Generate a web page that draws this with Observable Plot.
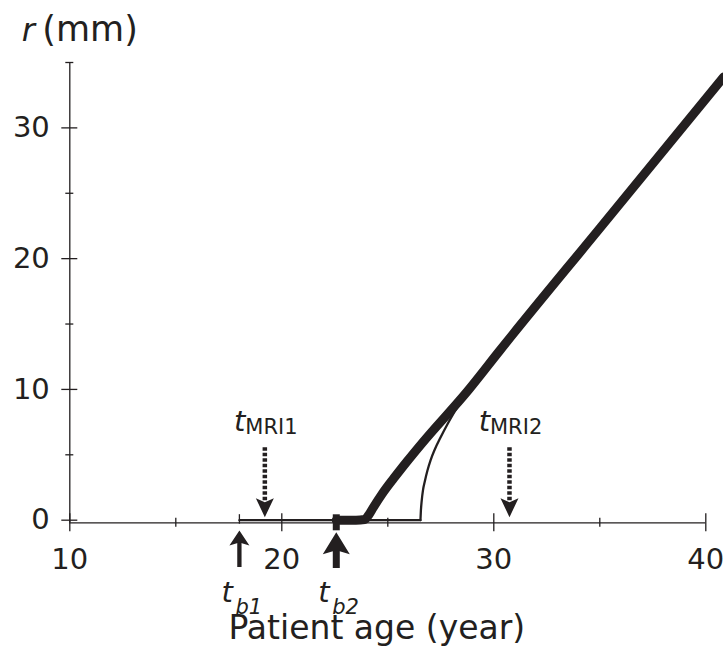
<!DOCTYPE html>
<html><head><meta charset="utf-8">
<script src="https://cdn.jsdelivr.net/npm/d3@7"></script>
<script src="https://cdn.jsdelivr.net/npm/@observablehq/plot@0.6"></script>
<style>html,body{margin:0;padding:0;background:#fff;}</style>
</head><body><div id="chart"></div>
<script>
// ---- data ----
const xMajorTicks = [10, 20, 30, 40];
const xMinorTicks = [15, 25, 35];
const yMajorTicks = [0, 10, 20, 30];
const yMinorTicks = [5, 15, 25, 35];

const tbAges = [18.0, 22.57];            // t_b1, t_b2
const tbSubs = ["b1", "b2"];
const mriAges = [19.2, 30.74];           // t_MRI1, t_MRI2
const mriSubs = ["MRI1", "MRI2"];

// thin curve (later onset): flat part, then growth
const thinFlatAge = [18, 26.54];
const thinFlatR   = [0, 0];
const thinAge = [26.54, 26.56, 26.6, 26.66, 26.75, 26.87, 27.02, 27.2, 27.48, 27.8, 28.15, 28.5, 28.9, 30.28, 35.04, 40.85];
const thinR   = [0, 0.7, 1.5, 2.3, 3.0, 3.8, 4.6, 5.35, 6.3, 7.3, 8.3, 9.2, 10.05, 12.97, 22.4, 33.9];
// thick curve (onset at t_b2)
const thickAge = [22.57, 23.5, 23.9, 24.1, 24.32, 24.73, 25.28, 25.91, 26.62, 28.8, 30.28, 35.04, 40.85];
const thickR   = [0, 0, 0.05, 0.4, 0.98, 2.0, 3.2, 4.5, 5.9, 9.95, 12.97, 22.4, 33.9];

// ---- build ----
const ink = "#231f20";
const xDomain = [10, 40], yDomain = [-0.2, 35];
const axisLevel = -0.2;
const thinFlat = thinFlatAge.map((t, i) => ({t, r: thinFlatR[i]}));
const thin = thinAge.map((t, i) => ({t, r: thinR[i]}));
const thick = thickAge.map((t, i) => ({t, r: thickR[i]}));

function headUp(w, h, n) { return {draw(c) { c.moveTo(0, 0); c.lineTo(w / 2, h); c.lineTo(0, h - n); c.lineTo(-w / 2, h); c.closePath(); }}; }
function headDown(w, h, n) { return {draw(c) { c.moveTo(0, 0); c.lineTo(w / 2, -h); c.lineTo(0, -h + n); c.lineTo(-w / 2, -h); c.closePath(); }}; }

const rule = {stroke: ink, strokeWidth: 1.3};
const fs = 29;

const chart = Plot.plot({
  width: 723, height: 669,
  marginLeft: 69.3, marginRight: 17.7, marginTop: 62, marginBottom: 146.7,
  x: {domain: xDomain, axis: null},
  y: {domain: yDomain, axis: null},
  style: {fontFamily: "'DejaVu Sans', sans-serif", background: "#fff", color: ink},
  marks: [
    // axes lines
    Plot.ruleY([axisLevel], {x1: xDomain[0], x2: xDomain[1], ...rule}),
    Plot.ruleX([xDomain[0]], {y1: axisLevel, y2: yDomain[1], ...rule}),
    // ticks crossing the axes
    Plot.ruleX(xMajorTicks, {y1: axisLevel, y2: axisLevel, insetTop: 9, insetBottom: 9, ...rule}),
    Plot.ruleX(xMinorTicks, {y1: axisLevel, y2: axisLevel, insetTop: 4.5, insetBottom: 4.5, ...rule}),
    Plot.ruleY(yMajorTicks, {x1: xDomain[0], x2: xDomain[0], insetLeft: 8, insetRight: 8, ...rule}),
    Plot.ruleY(yMinorTicks, {x1: xDomain[0], x2: xDomain[0], insetLeft: 4, insetRight: 4, ...rule}),
    // tick labels
    Plot.text(xMajorTicks, {x: d => d, y: axisLevel, text: d => String(d), dy: 45.7, lineAnchor: "bottom", fontSize: fs, fill: ink}),
    Plot.text(yMajorTicks, {x: xDomain[0], y: d => d, text: d => String(d), dx: -20, textAnchor: "end", lineAnchor: "middle", fontSize: fs, fill: ink}),
    // axis titles
    Plot.text(["Patient age (year)"], {x: 25, y: axisLevel, text: d => d, dx: -11, dy: 115.7, lineAnchor: "bottom", fontSize: 33, fill: ink}),
    Plot.text(["r"], {x: xDomain[0], y: yDomain[1], text: d => d, dx: -48, dy: -22, textAnchor: "start", lineAnchor: "bottom", fontSize: 32, fontStyle: "italic", fill: ink}),
    Plot.text(["(mm)"], {x: xDomain[0], y: yDomain[1], text: d => d, dx: -27.5, dy: -22, textAnchor: "start", lineAnchor: "bottom", fontSize: 35, fill: ink}),
    // curves
    Plot.line(thinFlat, {x: "t", y: "r", stroke: ink, strokeWidth: 2.3}),
    Plot.line(thin, {x: "t", y: "r", stroke: ink, strokeWidth: 2.3, curve: "monotone-x"}),
    Plot.line(thick, {x: "t", y: "r", stroke: ink, strokeWidth: 9, curve: "monotone-x", strokeLinejoin: "round"}),
    // markers at t_b1 and t_b2
    Plot.ruleX([tbAges[0]], {y1: 0, y2: 0, insetTop: 4, insetBottom: 5.5, stroke: ink, strokeWidth: 1.3}),
    Plot.ruleX([tbAges[1]], {y1: axisLevel, y2: axisLevel, insetTop: 8, insetBottom: 8, stroke: ink, strokeWidth: 7}),
    // t_b arrows (up)
    Plot.ruleX([tbAges[0]], {y1: axisLevel, y2: axisLevel, insetTop: 44.7, insetBottom: -18, stroke: ink, strokeWidth: 4.3}),
    Plot.ruleX([tbAges[1]], {y1: axisLevel, y2: axisLevel, insetTop: 45.7, insetBottom: -24, stroke: ink, strokeWidth: 7}),
    Plot.dot([tbAges[0]], {x: d => d, y: axisLevel, r: 1, symbol: headUp(20, 15, 3), fill: ink, stroke: "none", dy: 7.7}),
    Plot.dot([tbAges[1]], {x: d => d, y: axisLevel, r: 1, symbol: headUp(27, 22, 4), fill: ink, stroke: "none", dy: 9.4}),
    // MRI arrows (dotted, down)
    Plot.ruleX(mriAges, {y1: axisLevel, y2: axisLevel, insetTop: -22, insetBottom: 75.6, stroke: ink, strokeWidth: 4.5, strokeDasharray: "3.5,2"}),
    Plot.dot(mriAges, {x: d => d, y: axisLevel, r: 1, symbol: headDown(18, 19, 4), fill: ink, stroke: "none", dy: -5.6}),
    // labels
    Plot.text(mriAges, {x: d => d, y: axisLevel, text: () => "t", dx: -30.8, dy: -92.3, textAnchor: "start", lineAnchor: "bottom", fontSize: 29, fontStyle: "italic", fill: ink}),
    Plot.text(mriAges, {x: d => d, y: axisLevel, text: (d, i) => mriSubs[i], dx: -19.5, dy: -89, textAnchor: "start", lineAnchor: "bottom", fontSize: 21, fill: ink}),
    Plot.text(tbAges, {x: d => d, y: axisLevel, text: () => "t", dx: -18, dy: 79.4, textAnchor: "start", lineAnchor: "bottom", fontSize: 29, fontStyle: "italic", fill: ink}),
    Plot.text(tbAges, {x: d => d, y: axisLevel, text: (d, i) => tbSubs[i], dx: -4, dy: 91, textAnchor: "start", lineAnchor: "bottom", fontSize: 21, fontStyle: "italic", fill: ink})
  ]
});
document.getElementById("chart").appendChild(chart);
</script>
</body></html>
